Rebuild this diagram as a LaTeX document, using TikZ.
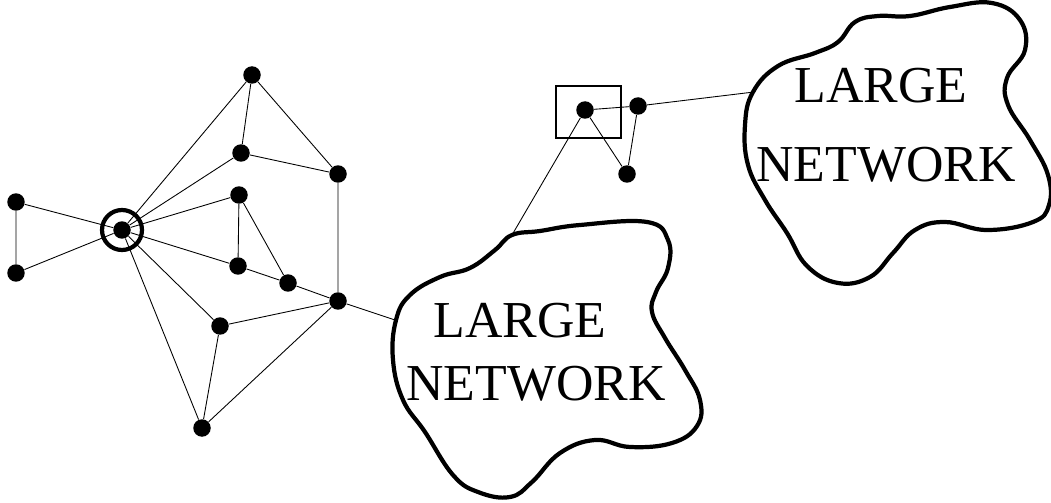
\documentclass[tikz,border=0pt]{standalone}
\usepackage{fontspec}
\setmainfont{Liberation Serif}
\begin{document}
\begin{tikzpicture}[x=0.02cm,y=-0.02cm,
    dot/.style={circle,fill=black,inner sep=0pt,minimum size=0.35cm},
    edge/.style={line width=0.5pt},
    cloudline/.style={line width=2.4pt,line join=round},
    bigtext/.style={font=\fontsize{29.5}{30}\selectfont,anchor=base,inner sep=0pt}]
    \useasboundingbox (0,0) rectangle (1051,503);
    %left graph
    \node[dot] (hub) at (122,230) {};
    \draw [line width=2.4pt] (hub) circle (0.4cm);
    \node[dot] (l1) at (16,202) {};
    \node[dot] (l2) at (16,273) {};
    \node[dot] (a) at (252,75) {};
    \node[dot] (b) at (241,153) {};
    \node[dot] (c) at (338,174) {};
    \node[dot] (d) at (239,195) {};
    \node[dot] (e) at (238,266) {};
    \node[dot] (f) at (288,283) {};
    \node[dot] (g) at (338,301) {};
    \node[dot] (h) at (220,326) {};
    \node[dot] (i) at (202,428) {};
    %right graph
    \node[dot] (p) at (585,110) {};
    \node[dot] (q) at (638,106) {};
    \node[dot] (r) at (627,174) {};
    \draw [line width=0.8pt] (556,86) rectangle (621,138);
    %first cloud
    \draw [cloudline] plot[smooth cycle,tension=0.7] coordinates {
        (512,235) (540,231) (580,225) (647,222) (668,240) (668,268)
        (656,292) (652,312) (665,338) (685,370) (700,400) (697,426)
        (672,443) (630,447) (595,440) (560,453) (532,482) (510,497)
        (478,492) (453,475) (425,432) (403,400) (393,360) (396,320)
        (410,295) (440,277) (470,268) (495,250)};
    \node[bigtext] (large1) at (520,337) {LARGE};
    \node[bigtext] (net1) at (536,400) {NETWORK};
    \coordinate (cl1a) at (395,320);
    \coordinate (cl1b) at (512,235);
    %second cloud
    \draw [cloudline] plot[smooth cycle,tension=0.7] coordinates {
        (753,92) (778,66) (815,53) (838,42) (855,22) (878,16) (910,16)
        (950,7) (992,3) (1020,20) (1025,50) (1007,78) (1008,105)
        (1030,140) (1048,175) (1049,205) (1033,222) (987,230) (945,222)
        (915,230) (893,253) (870,277) (838,283) (807,266) (787,233)
        (765,200) (748,165) (745,125)};
    \node[bigtext] (large2) at (881,103) {LARGE};
    \node[bigtext] (net2) at (886,182) {NETWORK};
    \coordinate (cl2) at (754,92);
    %edges
    \draw [edge] (l1) -- (hub) (l2) -- (hub) (l1) -- (l2);
    \draw [edge] (hub) -- (a) (hub) -- (b) (hub) -- (d) (hub) -- (e)
        (hub) -- (h) (hub) -- (i);
    \draw [edge] (a) -- (b) (a) -- (c) (b) -- (c) (c) -- (g);
    \draw [edge] (d) -- (e) (d) -- (f) (e) -- (f) (f) -- (g);
    \draw [edge] (h) -- (g) (h) -- (i) (i) -- (g);
    \draw [edge] (g) -- (cl1a);
    \draw [edge] (p) -- (q) (q) -- (r) (p) -- (r);
    \draw [edge] (p) -- (cl1b);
    \draw [edge] (q) -- (cl2);
\end{tikzpicture}
\end{document}
